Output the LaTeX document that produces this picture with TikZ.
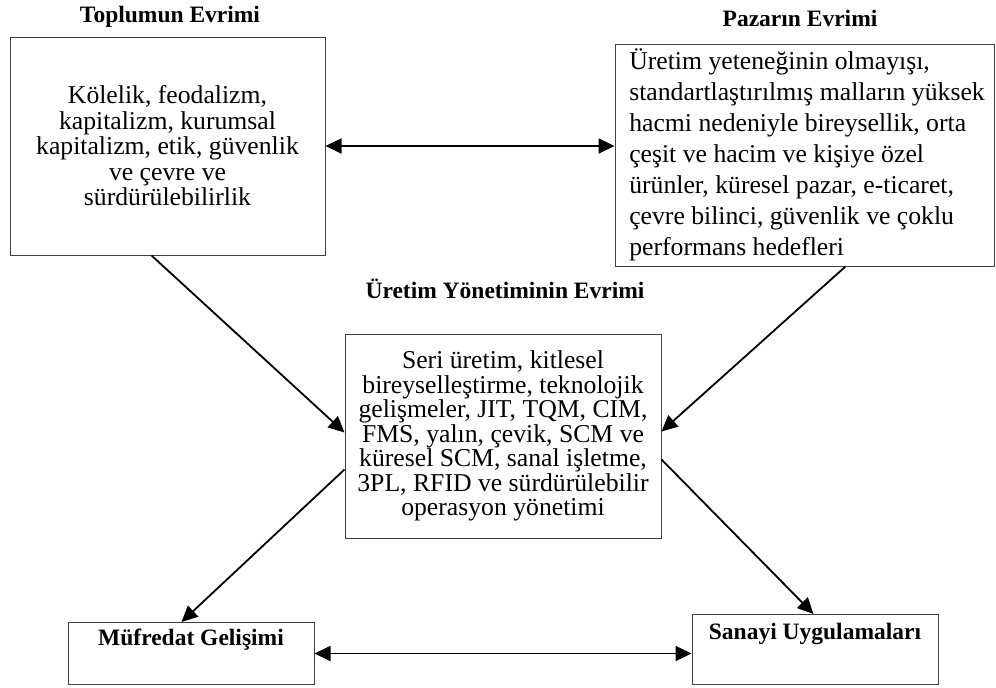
\documentclass[tikz,border=0pt]{standalone}
\usepackage{fontspec}
\setmainfont{Liberation Serif}
\usetikzlibrary{arrows.meta}

\begin{document}
\begin{tikzpicture}[x=1pt,y=-1pt,
  kutu/.style={draw=black!75, line width=1pt, inner sep=0pt},
  baslik/.style={font=\fontsize{23.5}{26}\selectfont\bfseries},
  metin/.style={font=\fontsize{25.7}{25.5}\selectfont},
  ok/.style={line width=1.8pt, -{Triangle[length=16pt,width=15pt]}},
  cift/.style={line width=1.8pt, {Triangle[length=16pt,width=15pt]}-{Triangle[length=16pt,width=15pt]}}]
\useasboundingbox (0,0) rectangle (996,688);
% basliklar
\node[baslik, anchor=base] (toplumB) at (170,23) {Toplumun Evrimi};
\node[baslik, anchor=base] (pazarB) at (800,26) {Pazarın Evrimi};
\node[baslik, anchor=base] (uretimB) at (505,298) {Üretim Yönetiminin Evrimi};
% kutular
\node[kutu, metin, align=center, minimum width=315pt, minimum height=218pt] (toplum) at (167.5,146)
  {Kölelik, feodalizm,\\ kapitalizm, kurumsal\\ kapitalizm, etik, güvenlik\\ ve çevre ve\\ sürdürülebilirlik};
\node[kutu, font=\fontsize{25.7}{31}\selectfont, align=left, minimum width=379pt, minimum height=222pt] (pazar) at (804.5,155)
  {\hspace*{5pt}Üretim yeteneğinin olmayışı,\\ \hspace*{5pt}standartlaştırılmış malların yüksek\\ \hspace*{5pt}hacmi nedeniyle bireysellik, orta\\ \hspace*{5pt}çeşit ve hacim ve kişiye özel\\ \hspace*{5pt}ürünler, küresel pazar, e-ticaret,\\ \hspace*{5pt}çevre bilinci, güvenlik ve çoklu\\ \hspace*{5pt}performans hedefleri};
\node[kutu, font=\fontsize{25.7}{24.5}\selectfont, align=center, minimum width=316pt, minimum height=204pt] (uretim) at (503,436)
  {Seri üretim, kitlesel\\ bireyselleştirme, teknolojik\\ gelişmeler, JIT, TQM, CIM,\\ FMS, yalın, çevik, SCM ve\\ küresel SCM, sanal işletme,\\ 3PL, RFID ve sürdürülebilir\\ operasyon yönetimi};
\node[kutu, baslik, anchor=north, text height=23pt, text depth=39pt, minimum width=246pt] (mufredat) at (191,622) {Müfredat Gelişimi};
\node[kutu, baslik, anchor=north, text height=25pt, text depth=45pt, minimum width=246pt] (sanayi) at (815,614) {Sanayi Uygulamaları};
% oklar
\draw[cift] (toplum.east) -- (toplum.east -| pazar.west);
\draw[ok] ([xshift=142pt]toplum.south west) -- ([yshift=-99pt]uretim.north west);
\draw[ok] ([xshift=-149pt]pazar.south east) -- ([yshift=-98pt]uretim.north east);
\draw[ok] ([yshift=-136pt]uretim.north west) -- ([xshift=114pt]mufredat.north west);
\draw[ok] ([yshift=-126pt]uretim.north east) -- ([xshift=122pt]sanayi.north west);
\draw[cift] (mufredat.east) -- (mufredat.east -| sanayi.west);
\end{tikzpicture}
\end{document}
